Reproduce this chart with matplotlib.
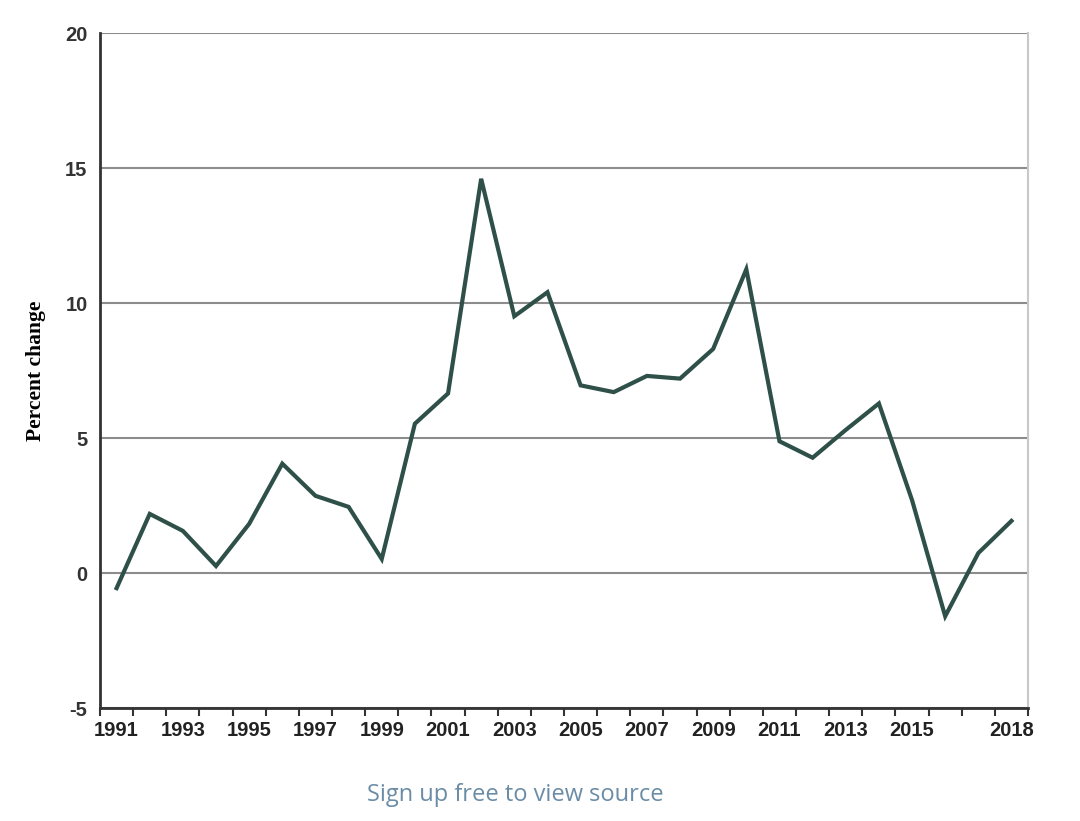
import numpy as np
import matplotlib.pyplot as plt

plt.rcParams['axes.unicode_minus'] = False

years = list(range(1991, 2019))
pct_change = [-0.56, 2.19, 1.56, 0.26, 1.82, 4.05, 2.86, 2.45, 0.52, 5.53,
              6.65, 14.6, 9.51, 10.4, 6.95, 6.7, 7.3, 7.2, 8.3, 11.25,
              4.88, 4.27, 5.3, 6.28, 2.7, -1.6, 0.74, 1.93]
shown_labels = [str(y) if (y <= 2015 and y % 2 == 1) or y == 2018 else '' for y in years]

fig = plt.figure(figsize=(10.8, 8.21), dpi=100)
ax = fig.add_axes([0.0926, 0.1376, 0.8593, 0.8222])

x = np.arange(len(years))
ax.plot(x, pct_change, color='#2e5048', lw=3, solid_joinstyle='miter', zorder=3)

ax.set_xlim(-0.5, len(years) - 0.5)
ax.set_ylim(-5, 20)

# gridlines
ax.set_yticks([-5, 0, 5, 10, 15, 20])
ax.yaxis.grid(True, color='#8c8c8c', lw=1.5)
ax.set_axisbelow(True)

# category axis: ticks on the boundaries, labels in the middle
ax.set_xticks(x)
ax.set_xticklabels(shown_labels, fontsize=14.5, fontweight='bold',
                   family='Liberation Sans', color='#222222')
ax.tick_params(axis='x', which='major', length=0, pad=9)
ax.set_xticks(np.arange(-0.5, len(years)), minor=True)
ax.tick_params(axis='x', which='minor', length=6, width=1.5, color='#333333', direction='out')

ax.tick_params(axis='y', length=0, pad=9, labelsize=14.5, labelcolor='#333333')
for lab in ax.get_yticklabels():
    lab.set_fontweight('bold')
    lab.set_family('Liberation Sans')

for s in ['left', 'bottom']:
    ax.spines[s].set_color('#333333')
    ax.spines[s].set_linewidth(2)
ax.spines['top'].set_visible(False)
ax.spines['right'].set_color('#c8c8c8')
ax.spines['right'].set_linewidth(1.5)

ax.set_ylabel('Percent change', fontsize=15.5, fontweight='bold',
              family='Liberation Serif', labelpad=14)

fig.text(0.477, 0.032, 'Sign up free to view source', ha='center', va='center',
         fontsize=17, color='#6a8ca6', family='Open Sans')

fig.savefig('out.png', dpi=100)
